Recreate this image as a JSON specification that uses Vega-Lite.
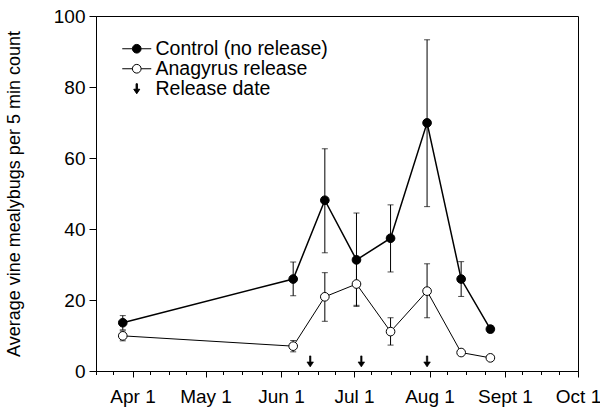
{
  "$schema": "https://vega.github.io/schema/vega-lite/v6.json",
  "width": 482,
  "height": 355,
  "autosize": {"type": "none"},
  "padding": {"left": 96, "top": 16, "right": 22, "bottom": 40},
  "config": {
    "font": "Liberation Sans",
    "view": {"stroke": "black", "strokeWidth": 1},
    "axis": {
      "grid": false,
      "domainColor": "black",
      "domainWidth": 1,
      "tickColor": "black",
      "tickWidth": 1,
      "labelColor": "black",
      "titleColor": "black",
      "labelFont": "Liberation Sans",
      "titleFont": "Liberation Sans",
      "labelFontSize": 19,
      "titleFontSize": 18,
      "titleFontWeight": "normal"
    },
    "legend": {
      "orient": "none",
      "legendX": 31,
      "legendY": 23,
      "padding": 0,
      "labelFont": "Liberation Sans",
      "labelFontSize": 19.5,
      "labelColor": "black",
      "labelLimit": 400,
      "labelOffset": 9,
      "rowPadding": -3,
      "symbolSize": 100,
      "symbolStrokeColor": "black",
      "symbolStrokeWidth": 1
    }
  },
  "datasets": {
    "counts": [
      {"date": "2007-03-28", "series": "Control (no release)", "mean": 13.6, "lo": 11.6, "hi": 15.6},
      {"date": "2007-06-06", "series": "Control (no release)", "mean": 25.9, "lo": 21.2, "hi": 30.7},
      {"date": "2007-06-19", "series": "Control (no release)", "mean": 48.1, "lo": 33.3, "hi": 62.6},
      {"date": "2007-07-02", "series": "Control (no release)", "mean": 31.3, "lo": 18.2, "hi": 44.5},
      {"date": "2007-07-16", "series": "Control (no release)", "mean": 37.4, "lo": 27.9, "hi": 46.8},
      {"date": "2007-07-31", "series": "Control (no release)", "mean": 69.9, "lo": 46.3, "hi": 93.3},
      {"date": "2007-08-14", "series": "Control (no release)", "mean": 25.9, "lo": 21.0, "hi": 30.8},
      {"date": "2007-08-26", "series": "Control (no release)", "mean": 11.8, "lo": 10.8, "hi": 12.8},
      {"date": "2007-03-28", "series": "Anagyrus release", "mean": 9.9, "lo": 8.5, "hi": 11.3},
      {"date": "2007-06-06", "series": "Anagyrus release", "mean": 7.0, "lo": 5.4, "hi": 8.6},
      {"date": "2007-06-19", "series": "Anagyrus release", "mean": 20.9, "lo": 14.0, "hi": 27.7},
      {"date": "2007-07-02", "series": "Anagyrus release", "mean": 24.5, "lo": 18.5, "hi": 30.5},
      {"date": "2007-07-16", "series": "Anagyrus release", "mean": 11.1, "lo": 7.3, "hi": 15.0},
      {"date": "2007-07-31", "series": "Anagyrus release", "mean": 22.5, "lo": 15.0, "hi": 30.2},
      {"date": "2007-08-14", "series": "Anagyrus release", "mean": 5.2, "lo": 4.7, "hi": 5.7},
      {"date": "2007-08-26", "series": "Anagyrus release", "mean": 3.7, "lo": 3.3, "hi": 4.1}
    ],
    "releases": [
      {"date": "2007-06-13", "series": "Release date"},
      {"date": "2007-07-04", "series": "Release date"},
      {"date": "2007-07-31", "series": "Release date"}
    ]
  },
  "encoding": {
    "x": {
      "field": "date",
      "type": "temporal",
      "title": null,
      "scale": {
        "type": "utc",
        "domain": [
          {"year": 2007, "month": 3, "date": 17, "utc": true},
          {"year": 2007, "month": 10, "date": 1, "utc": true}
        ]
      },
      "axis": {
        "values": [
          {"year": 2007, "month": 3, "date": 17, "utc": true},
          {"year": 2007, "month": 3, "date": 24, "utc": true},
          {"year": 2007, "month": 4, "date": 1, "utc": true},
          {"year": 2007, "month": 4, "date": 8, "utc": true},
          {"year": 2007, "month": 4, "date": 16, "utc": true},
          {"year": 2007, "month": 4, "date": 23, "utc": true},
          {"year": 2007, "month": 5, "date": 1, "utc": true},
          {"year": 2007, "month": 5, "date": 8, "utc": true},
          {"year": 2007, "month": 5, "date": 16, "utc": true},
          {"year": 2007, "month": 5, "date": 24, "utc": true},
          {"year": 2007, "month": 6, "date": 1, "utc": true},
          {"year": 2007, "month": 6, "date": 8, "utc": true},
          {"year": 2007, "month": 6, "date": 16, "utc": true},
          {"year": 2007, "month": 6, "date": 23, "utc": true},
          {"year": 2007, "month": 7, "date": 1, "utc": true},
          {"year": 2007, "month": 7, "date": 8, "utc": true},
          {"year": 2007, "month": 7, "date": 16, "utc": true},
          {"year": 2007, "month": 7, "date": 24, "utc": true},
          {"year": 2007, "month": 8, "date": 1, "utc": true},
          {"year": 2007, "month": 8, "date": 8, "utc": true},
          {"year": 2007, "month": 8, "date": 16, "utc": true},
          {"year": 2007, "month": 8, "date": 24, "utc": true},
          {"year": 2007, "month": 9, "date": 1, "utc": true},
          {"year": 2007, "month": 9, "date": 8, "utc": true},
          {"year": 2007, "month": 9, "date": 16, "utc": true},
          {"year": 2007, "month": 9, "date": 23, "utc": true},
          {"year": 2007, "month": 10, "date": 1, "utc": true}
        ],
        "labelExpr": "utcdate(datum.value) == 1 ? ['Jan','Feb','Mar','Apr','May','Jun','Jul','Aug','Sept','Oct','Nov','Dec'][utcmonth(datum.value)] + ' 1' : ''",
        "tickSize": {"condition": {"test": "utcdate(datum.value) == 1", "value": 6}, "value": 3.5},
        "labelPadding": 10,
        "labelOverlap": false,
        "labelFlush": false
      }
    },
    "y": {
      "type": "quantitative",
      "scale": {"domain": [0, 100], "nice": false},
      "axis": {
        "title": "Average vine mealybugs per 5 min count",
        "values": [0, 20, 40, 60, 80, 100],
        "tickSize": 7,
        "labelPadding": 4,
        "titlePadding": 30
      }
    }
  },
  "layer": [
    {
      "data": {"name": "counts"},
      "mark": {"type": "line", "color": "black"},
      "encoding": {
        "y": {"field": "mean", "type": "quantitative"},
        "detail": {"field": "series"},
        "strokeWidth": {
          "field": "series",
          "scale": {"domain": ["Control (no release)", "Anagyrus release"], "range": [1.5, 1]},
          "legend": null
        }
      }
    },
    {
      "data": {"name": "counts"},
      "mark": {"type": "rule", "color": "black", "strokeWidth": 1},
      "encoding": {
        "y": {"field": "lo", "type": "quantitative"},
        "y2": {"field": "hi"}
      }
    },
    {
      "data": {"name": "counts"},
      "mark": {"type": "tick", "orient": "horizontal", "color": "black", "size": 6, "thickness": 1},
      "encoding": {"y": {"field": "lo", "type": "quantitative"}}
    },
    {
      "data": {"name": "counts"},
      "mark": {"type": "tick", "orient": "horizontal", "color": "black", "size": 6, "thickness": 1},
      "encoding": {"y": {"field": "hi", "type": "quantitative"}}
    },
    {
      "data": {"name": "counts"},
      "mark": {"type": "point", "shape": "circle", "filled": true, "size": 75, "stroke": "black", "strokeWidth": 1, "opacity": 1},
      "encoding": {
        "y": {"field": "mean", "type": "quantitative"},
        "fill": {
          "field": "series",
          "scale": {"domain": ["Control (no release)", "Anagyrus release", "Release date"], "range": ["black", "white", "black"]},
          "legend": {"title": null}
        }
      }
    },
    {
      "data": {"name": "releases"},
      "mark": {"type": "point", "filled": true, "size": 121, "stroke": "black", "strokeWidth": 0.6, "opacity": 1},
      "encoding": {
        "y": {"datum": 2.7, "type": "quantitative"},
        "fill": {
          "field": "series",
          "scale": {"domain": ["Control (no release)", "Anagyrus release", "Release date"], "range": ["black", "white", "black"]},
          "legend": {"title": null}
        },
        "shape": {
          "field": "series",
          "scale": {
            "domain": ["Control (no release)", "Anagyrus release", "Release date"],
            "range": [
              "M-2.9,0H-0.87M0.87,0H2.9M-0.87,0A0.87,0.87,0,1,0,0.87,0A0.87,0.87,0,1,0,-0.87,0Z",
              "M-2.9,0H-0.87M0.87,0H2.9M-0.87,0A0.87,0.87,0,1,0,0.87,0A0.87,0.87,0,1,0,-0.87,0Z",
              "M-0.13,-1H0.13V0.1H0.6L0,1L-0.6,0.1H-0.13Z"
            ]
          },
          "legend": {"title": null}
        }
      }
    }
  ]
}
